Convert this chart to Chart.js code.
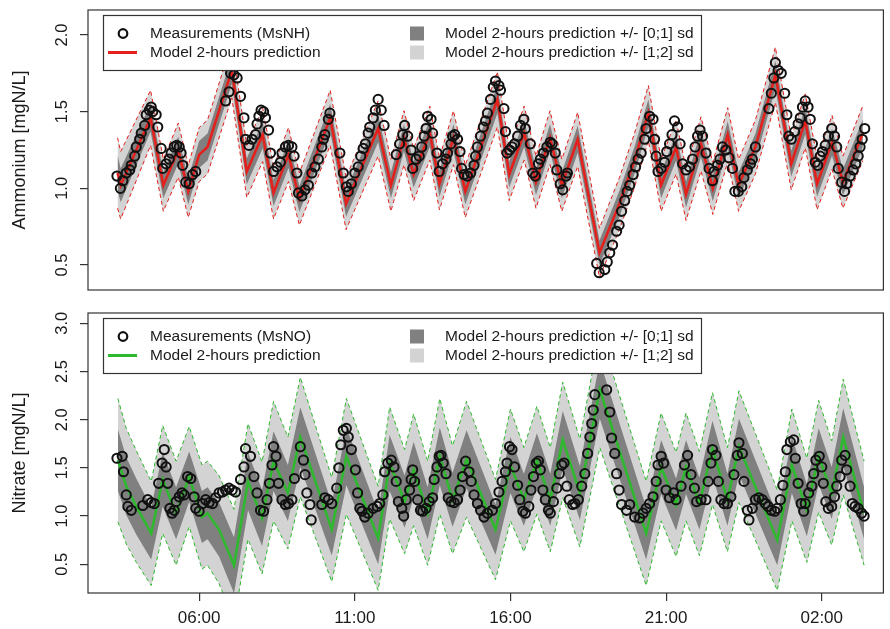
<!DOCTYPE html>
<html>
<head>
<meta charset="utf-8">
<script src="https://cdn.jsdelivr.net/npm/chart.js@4.4.1/dist/chart.umd.min.js"></script>
<style>
  body { margin: 0; background: #fff; }
  #wrap { position: relative; width: 890px; height: 629px; }
  canvas { position: absolute; left: 0; }
  #ammonium { top: 0; }
  #nitrate { top: 300px; }
</style>
</head>
<body>
<div id="wrap">
  <canvas id="ammonium" width="890" height="300"></canvas>
  <canvas id="nitrate" width="890" height="329"></canvas>
</div>
<script>
// times are hours from midnight of the first day (26 = 02:00 next day)
var xTickValues = [6, 11, 16, 21, 26];
var xTickLabels = ['06:00', '11:00', '16:00', '21:00', '02:00'];

var nhTicks = [0.5, 1.0, 1.5, 2.0];
var nhTickLabels = ['0.5', '1.0', '1.5', '2.0'];
var noTicks = [0.5, 1.0, 1.5, 2.0, 2.5, 3.0];
var noTickLabels = ['0.5', '1.0', '1.5', '2.0', '2.5', '3.0'];

// Ammonium measurements
var nhMeasTime = [3.36,3.47,3.55,3.66,3.77,3.82,3.93,3.98,4.09,4.14,4.25,4.30,4.40,4.46,4.51,4.62,4.67,4.78,4.83,4.94,
  5.04,5.10,5.20,5.28,5.36,5.42,5.47,5.57,5.68,5.79,5.89,6.85,6.96,7.01,7.12,7.22,7.33,7.44,7.49,7.60,
  7.70,7.81,7.86,7.92,7.99,8.07,8.13,8.23,8.29,8.39,8.50,8.61,8.66,8.77,8.87,8.98,9.05,9.14,9.19,9.30,
  9.40,9.51,9.62,9.72,9.83,9.94,9.99,10.04,10.15,10.20,10.52,10.63,10.73,10.79,10.89,11.00,11.11,11.19,11.27,11.34,
  11.43,11.48,11.59,11.66,11.75,11.85,11.94,12.33,12.44,12.54,12.60,12.70,12.81,12.86,12.97,13.07,13.15,13.23,13.29,13.34,
  13.45,13.50,13.64,13.71,13.82,13.93,13.98,14.09,14.14,14.21,14.30,14.38,14.43,14.51,14.62,14.72,14.83,14.88,14.94,15.04,
  15.13,15.20,15.26,15.36,15.45,15.52,15.63,15.68,15.79,15.84,15.89,15.97,16.05,16.13,16.23,16.32,16.43,16.48,16.64,16.72,
  16.80,16.90,16.96,17.06,17.17,17.28,17.34,17.44,17.49,17.60,17.68,17.79,17.83,18.77,18.85,19.03,19.11,19.19,19.28,19.41,
  19.49,19.57,19.67,19.75,19.83,19.94,20.02,20.10,20.20,20.31,20.36,20.47,20.58,20.63,20.68,20.74,20.84,20.95,21.02,21.11,
  21.19,21.27,21.37,21.45,21.53,21.64,21.75,21.85,21.93,22.01,22.09,22.17,22.28,22.38,22.49,22.54,22.65,22.73,22.81,22.92,
  23.02,23.13,23.21,23.32,23.43,23.50,23.61,23.71,23.77,23.87,24.30,24.38,24.46,24.51,24.60,24.70,24.81,24.88,24.94,25.02,
  25.13,25.24,25.31,25.38,25.47,25.56,25.63,25.70,25.79,25.87,25.95,26.02,26.11,26.21,26.32,26.41,26.48,26.53,26.64,26.73,
  26.80,26.91,27.01,27.09,27.17,27.23,27.30,27.38];
var nhMeasValue = [1.08,1.00,1.05,1.10,1.12,1.15,1.21,1.27,1.32,1.36,1.41,1.48,1.51,1.53,1.50,1.48,1.40,1.26,1.13,1.16,
  1.19,1.23,1.27,1.28,1.27,1.23,1.15,1.04,1.03,1.09,1.11,1.57,1.63,1.75,1.74,1.72,1.60,1.46,1.32,1.28,
  1.32,1.35,1.42,1.47,1.51,1.50,1.46,1.38,1.23,1.11,1.14,1.17,1.23,1.27,1.28,1.27,1.21,1.10,0.97,0.95,
  0.99,1.02,1.10,1.14,1.19,1.27,1.32,1.35,1.45,1.49,1.23,1.10,1.01,0.98,1.03,1.10,1.14,1.21,1.26,1.29,
  1.36,1.40,1.46,1.51,1.58,1.51,1.41,1.22,1.29,1.35,1.41,1.34,1.25,1.13,1.19,1.21,1.27,1.34,1.39,1.47,
  1.45,1.36,1.23,1.11,1.16,1.19,1.23,1.29,1.34,1.35,1.32,1.24,1.13,1.09,1.08,1.10,1.15,1.21,1.27,1.34,
  1.40,1.44,1.49,1.58,1.66,1.70,1.67,1.64,1.52,1.37,1.23,1.25,1.27,1.29,1.34,1.41,1.45,1.39,1.29,1.10,
  1.08,1.16,1.19,1.23,1.27,1.30,1.29,1.23,1.12,1.03,0.99,1.08,1.10,0.51,0.45,0.47,0.52,0.58,0.63,0.72,
  0.76,0.85,0.92,0.98,1.02,1.09,1.14,1.19,1.23,1.32,1.39,1.47,1.45,1.32,1.21,1.11,1.13,1.17,1.24,1.29,
  1.35,1.44,1.40,1.29,1.16,1.12,1.14,1.19,1.27,1.34,1.38,1.34,1.23,1.13,1.05,1.11,1.15,1.19,1.27,1.25,
  1.20,1.13,0.98,0.98,1.01,1.07,1.12,1.16,1.19,1.27,1.52,1.62,1.72,1.82,1.77,1.75,1.62,1.48,1.34,1.32,
  1.37,1.42,1.46,1.53,1.57,1.53,1.45,1.29,1.17,1.15,1.21,1.24,1.28,1.34,1.39,1.34,1.27,1.13,1.04,0.98,
  1.03,1.08,1.12,1.16,1.21,1.27,1.32,1.39];

// Ammonium model 2-hours prediction and its sd
var nhModelTime = [3.38,3.48,4.44,4.85,5.33,5.65,6.00,6.27,7.05,7.53,8.04,8.39,8.87,9.22,10.21,10.72,11.75,12.16,12.58,12.89,
  13.41,13.72,14.17,14.55,15.58,15.96,16.44,16.82,17.27,17.65,18.16,18.86,19.50,19.98,20.43,20.84,21.32,21.64,22.12,22.50,
  22.98,23.33,23.87,24.51,25.02,25.47,25.85,26.33,26.68,27.32];
var nhModelValue = [1.10,1.02,1.46,1.02,1.25,0.98,1.22,1.27,1.77,1.11,1.35,0.97,1.22,0.93,1.46,0.90,1.39,1.02,1.33,1.09,
  1.36,1.03,1.33,0.98,1.58,1.09,1.36,1.04,1.33,1.02,1.32,0.58,0.90,1.18,1.49,1.02,1.27,0.96,1.29,1.00,
  1.35,1.02,1.27,1.74,1.16,1.44,1.03,1.30,1.04,1.36];
var nhModelSd = [0.115,0.11,0.09,0.085,0.088,0.085,0.088,0.088,0.09,0.085,0.088,0.085,0.088,0.085,0.09,0.085,0.09,0.085,0.088,0.085,
  0.088,0.085,0.088,0.085,0.09,0.085,0.088,0.085,0.088,0.085,0.088,0.08,0.085,0.088,0.09,0.085,0.088,0.085,0.088,0.085,
  0.088,0.085,0.088,0.09,0.085,0.088,0.085,0.088,0.085,0.09];

// Nitrate measurements
var noMeasTime = [3.36,3.53,3.57,3.66,3.71,3.82,4.19,4.35,4.46,4.56,4.70,4.81,4.88,4.94,4.99,5.06,5.13,5.20,5.26,5.36,
  5.45,5.52,5.63,5.73,5.84,5.89,6.00,6.11,6.21,6.32,6.43,6.53,6.64,6.75,6.85,6.96,7.06,7.17,7.33,7.44,
  7.49,7.65,7.76,7.86,7.97,8.07,8.18,8.26,8.34,8.39,8.47,8.55,8.66,8.77,8.87,8.98,9.06,9.25,9.35,9.40,
  9.46,9.56,9.60,9.94,10.04,10.15,10.26,10.42,10.49,10.55,10.63,10.73,10.79,10.89,11.02,11.09,11.16,11.23,11.32,11.43,
  11.59,11.72,11.80,11.90,11.96,12.06,12.17,12.26,12.33,12.40,12.51,12.57,12.65,12.76,12.81,12.86,12.92,13.02,13.11,13.18,
  13.29,13.39,13.50,13.55,13.64,13.71,13.77,13.84,13.93,14.00,14.09,14.19,14.30,14.38,14.46,14.56,14.67,14.74,14.83,14.94,
  15.04,15.15,15.26,15.42,15.52,15.63,15.73,15.84,15.89,15.97,16.05,16.13,16.23,16.30,16.40,16.48,16.59,16.66,16.74,16.83,
  16.90,16.96,17.04,17.12,17.22,17.28,17.38,17.49,17.57,17.65,17.72,17.81,17.89,18.00,18.07,18.18,18.29,18.39,18.48,18.55,
  18.61,18.66,18.71,19.09,19.19,19.25,19.35,19.41,19.49,19.57,19.73,19.83,19.99,20.15,20.26,20.36,20.47,20.58,20.68,20.74,
  20.84,20.92,21.00,21.11,21.24,21.32,21.48,21.59,21.69,21.80,21.91,21.98,22.12,22.28,22.35,22.44,22.49,22.60,22.68,22.76,
  22.86,22.97,23.08,23.18,23.29,23.34,23.45,23.50,23.61,23.66,23.77,23.87,23.98,24.09,24.19,24.28,24.38,24.49,24.57,24.67,
  24.75,24.83,24.88,24.99,25.10,25.15,25.24,25.34,25.42,25.47,25.58,25.68,25.74,25.81,25.92,26.00,26.05,26.13,26.21,26.32,
  26.41,26.48,26.59,26.64,26.75,26.80,26.91,26.98,27.07,27.17,27.28,27.36];
var noMeasValue = [1.60,1.62,1.46,1.22,1.10,1.06,1.11,1.17,1.14,1.13,1.34,1.55,1.69,1.51,1.34,1.08,1.03,1.06,1.15,1.20,
  1.24,1.22,1.41,1.39,1.20,1.08,1.05,1.13,1.17,1.14,1.13,1.19,1.24,1.25,1.27,1.29,1.27,1.25,1.38,1.51,
  1.70,1.62,1.41,1.24,1.06,1.05,1.17,1.34,1.53,1.72,1.62,1.34,1.17,1.12,1.13,1.17,1.39,1.72,1.58,1.43,
  1.24,1.12,0.96,1.12,1.19,1.17,1.13,1.29,1.50,1.74,1.89,1.91,1.82,1.69,1.48,1.24,1.08,1.05,0.99,1.03,
  1.08,1.10,1.13,1.22,1.46,1.55,1.58,1.51,1.36,1.15,1.08,1.00,1.17,1.27,1.38,1.48,1.36,1.17,1.06,1.05,
  1.08,1.15,1.19,1.38,1.51,1.62,1.63,1.55,1.44,1.19,1.15,1.14,1.17,1.27,1.41,1.57,1.46,1.36,1.22,1.13,
  1.06,0.99,1.03,1.06,1.13,1.25,1.36,1.46,1.55,1.72,1.69,1.51,1.32,1.17,1.05,1.03,1.10,1.27,1.41,1.55,
  1.57,1.48,1.27,1.17,1.06,1.03,1.15,1.29,1.44,1.53,1.55,1.31,1.17,1.12,1.13,1.17,1.31,1.44,1.65,1.82,
  1.96,2.10,2.26,2.31,2.08,1.81,1.65,1.44,1.27,1.12,1.06,1.12,0.99,0.98,1.03,1.08,1.13,1.20,1.36,1.53,
  1.62,1.55,1.27,1.19,1.24,1.17,1.31,1.53,1.63,1.43,1.29,1.15,1.17,1.17,1.36,1.55,1.69,1.63,1.36,1.17,
  1.13,1.13,1.20,1.43,1.63,1.76,1.65,1.36,1.06,0.96,1.08,1.17,1.19,1.17,1.13,1.10,1.06,1.05,1.08,1.17,
  1.32,1.46,1.69,1.77,1.79,1.60,1.34,1.13,1.05,1.13,1.24,1.31,1.44,1.58,1.62,1.51,1.34,1.15,1.08,1.10,
  1.20,1.31,1.41,1.58,1.63,1.48,1.31,1.13,1.10,1.08,1.03,1.00];

// Nitrate model 2-hours prediction and its sd
var noModelTime = [3.39,3.66,3.98,4.46,4.83,5.26,5.68,6.09,6.27,6.64,7.12,7.57,8.02,8.39,8.85,9.25,10.26,10.73,11.75,12.12,
  12.60,12.89,13.34,13.73,14.14,14.59,15.52,16.00,16.43,16.85,17.28,17.68,18.23,18.87,20.36,20.84,21.32,21.64,22.07,22.49,
  22.97,23.34,24.57,25.04,25.52,25.90,26.32,26.69,27.36];
var noModelValue = [1.58,1.31,1.10,0.82,1.38,1.03,1.41,0.99,1.03,0.86,0.49,1.36,0.98,1.57,1.24,1.82,0.86,1.62,0.77,1.55,
  1.15,1.48,1.03,1.62,1.17,1.59,0.86,1.53,1.17,1.58,1.17,1.79,1.24,2.31,0.82,1.51,1.12,1.51,1.13,1.70,
  1.17,1.72,0.75,1.53,1.06,1.62,1.24,1.82,1.03];
var noModelSd = [0.32,0.30,0.29,0.27,0.28,0.27,0.26,0.27,0.27,0.28,0.29,0.30,0.29,0.31,0.29,0.31,0.27,0.30,0.27,0.29,
  0.27,0.29,0.27,0.30,0.28,0.30,0.26,0.29,0.27,0.28,0.27,0.30,0.28,0.30,0.27,0.28,0.27,0.28,0.27,0.29,
  0.27,0.29,0.26,0.29,0.27,0.29,0.27,0.30,0.27];

var FONT = '"Liberation Sans", Arial, sans-serif';
var INK = '#1a1a1a';
var DARK = '#808080';
var LIGHT = '#d3d3d3';

function pairs(xs, ys) {
  return xs.map(function (x, i) { return { x: x, y: ys[i] }; });
}
function shifted(xs, ys, sd, k) {
  return xs.map(function (x, i) { return { x: x, y: ys[i] + k * sd[i] }; });
}

// legend inside the plot, drawn on top of the data, plus the R style box
var panelFrame = {
  id: 'panelFrame',
  afterDatasetsDraw: function (chart, args, opts) {
    var ctx = chart.ctx, a = chart.chartArea;
    var x0 = a.left + 15, y0 = a.top + 5, w = 598, h = 55;
    ctx.save();
    ctx.fillStyle = '#fff';
    ctx.fillRect(x0, y0, w, h);
    ctx.strokeStyle = '#333';
    ctx.lineWidth = 1.2;
    ctx.strokeRect(x0 + 0.5, y0 + 0.5, w, h);

    var rows = [y0 + 18.5, y0 + 37.5];
    ctx.font = '15.5px ' + FONT;
    ctx.textBaseline = 'middle';
    opts.items.forEach(function (it, i) {
      var col = Math.floor(i / 2), y = rows[i % 2];
      var sx = col === 0 ? x0 + 20 : x0 + 314;
      var tx = col === 0 ? x0 + 47 : x0 + 342;
      if (it.type === 'circle') {
        ctx.beginPath();
        ctx.arc(sx, y, 4.3, 0, Math.PI * 2);
        ctx.lineWidth = 2.2;
        ctx.strokeStyle = '#111';
        ctx.stroke();
      } else if (it.type === 'line') {
        ctx.beginPath();
        ctx.moveTo(sx - 15, y);
        ctx.lineTo(sx + 14, y);
        ctx.lineWidth = 3;
        ctx.strokeStyle = it.color;
        ctx.stroke();
      } else {
        ctx.fillStyle = it.color;
        ctx.fillRect(sx - 7, y - 7, 14, 14);
      }
      ctx.fillStyle = INK;
      ctx.fillText(it.text, tx, y);
    });

    ctx.strokeStyle = '#333';
    ctx.lineWidth = 1.2;
    ctx.strokeRect(a.left, a.top, a.right - a.left, a.bottom - a.top);
    ctx.restore();
  }
};

function makePanel(id, p) {
  var dashed = { showLine: true, borderColor: p.color, borderWidth: 1, borderDash: [4, 3], pointRadius: 0 };
  return new Chart(document.getElementById(id), {
    type: 'line',
    data: {
      datasets: [
        { data: pairs(p.measTime, p.measValue), showLine: false, pointRadius: 4.6, pointBorderWidth: 2,
          pointBorderColor: '#111', pointBackgroundColor: 'rgba(0,0,0,0)' },
        { data: pairs(p.modelTime, p.modelValue), borderColor: p.color, borderWidth: 2.6, pointRadius: 0 },
        { data: shifted(p.modelTime, p.modelValue, p.sd, 1), borderColor: 'rgba(0,0,0,0)', borderWidth: 0,
          pointRadius: 0, fill: '+1', backgroundColor: DARK },
        { data: shifted(p.modelTime, p.modelValue, p.sd, -1), borderColor: 'rgba(0,0,0,0)', borderWidth: 0, pointRadius: 0 },
        Object.assign({ data: shifted(p.modelTime, p.modelValue, p.sd, 2), fill: '+1', backgroundColor: LIGHT }, dashed),
        Object.assign({ data: shifted(p.modelTime, p.modelValue, p.sd, -2) }, dashed)
      ]
    },
    options: {
      responsive: false,
      animation: false,
      events: [],
      elements: { line: { tension: 0 } },
      layout: { padding: { top: p.padTop, right: 1, bottom: p.padBottom, left: 0 } },
      plugins: {
        legend: { display: false },
        tooltip: { enabled: false },
        filler: { drawTime: 'beforeDatasetsDraw' },
        panelFrame: { items: p.legend }
      },
      scales: {
        x: {
          type: 'linear', min: 2.43, max: 27.98, display: p.showX,
          afterBuildTicks: function (s) { s.ticks = xTickValues.map(function (v) { return { value: v }; }); },
          afterFit: function (s) {
            if (p.showX) s.height = 36;
            s.paddingLeft = 0; s.paddingRight = 0;
          },
          ticks: {
            autoSkip: false, maxRotation: 0, padding: 7, color: INK, font: { family: FONT, size: 17 },
            callback: function (v, i) { return xTickLabels[i]; }
          },
          grid: { drawOnChartArea: false, tickLength: 8, color: '#333', lineWidth: 1.2 },
          border: { display: false }
        },
        y: {
          min: p.yMin, max: p.yMax,
          afterBuildTicks: function (s) { s.ticks = p.yTicks.map(function (v) { return { value: v }; }); },
          afterFit: function (s) { s.width = 88; s.paddingTop = 0; s.paddingBottom = 0; },
          ticks: {
            autoSkip: false, minRotation: 90, maxRotation: 90, crossAlign: 'center', padding: 6,
            color: INK, font: { family: FONT, size: 16.5 },
            callback: function (v, i) { return p.yTickLabels[i]; }
          },
          title: { display: true, text: p.yTitle, color: INK, font: { family: FONT, size: 18 }, padding: { top: 9, bottom: 0 } },
          grid: { drawOnChartArea: false, tickLength: 8, color: '#333', lineWidth: 1.2 },
          border: { display: false }
        }
      }
    },
    plugins: [panelFrame]
  });
}

makePanel('ammonium', {
  measTime: nhMeasTime, measValue: nhMeasValue,
  modelTime: nhModelTime, modelValue: nhModelValue, sd: nhModelSd,
  color: '#e3201c', yMin: 0.337, yMax: 2.163, yTicks: nhTicks, yTickLabels: nhTickLabels,
  yTitle: 'Ammonium [mgN/L]', showX: false, padTop: 10, padBottom: 10,
  legend: [
    { type: 'circle', text: 'Measurements (MsNH)' },
    { type: 'line', color: '#e3201c', text: 'Model 2-hours prediction' },
    { type: 'box', color: DARK, text: 'Model 2-hours prediction +/- [0;1] sd' },
    { type: 'box', color: LIGHT, text: 'Model 2-hours prediction +/- [1;2] sd' }
  ]
});

makePanel('nitrate', {
  measTime: noMeasTime, measValue: noMeasValue,
  modelTime: noModelTime, modelValue: noModelValue, sd: noModelSd,
  color: '#2eb82e', yMin: 0.202, yMax: 3.107, yTicks: noTicks, yTickLabels: noTickLabels,
  yTitle: 'Nitrate [mgN/L]', showX: true, padTop: 13, padBottom: 0,
  legend: [
    { type: 'circle', text: 'Measurements (MsNO)' },
    { type: 'line', color: '#2eb82e', text: 'Model 2-hours prediction' },
    { type: 'box', color: DARK, text: 'Model 2-hours prediction +/- [0;1] sd' },
    { type: 'box', color: LIGHT, text: 'Model 2-hours prediction +/- [1;2] sd' }
  ]
});
</script>
</body>
</html>
